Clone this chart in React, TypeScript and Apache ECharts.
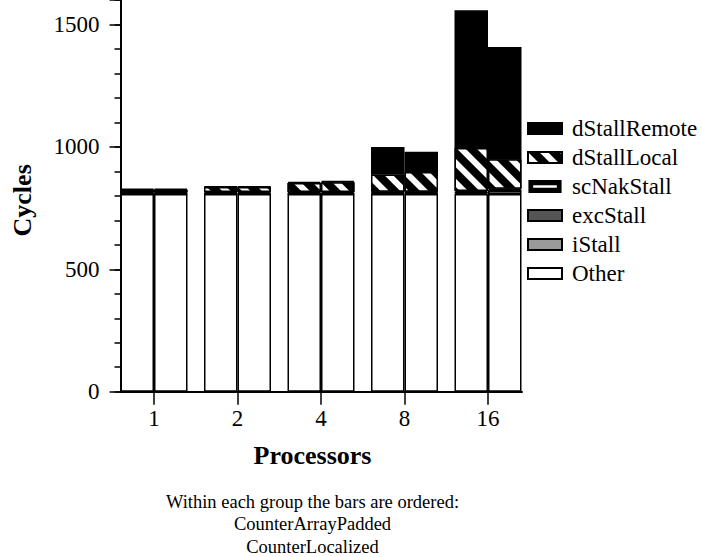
import React, { useEffect, useRef } from 'react';
import * as echarts from 'echarts';

// Categories (processor counts)
const processors = ['1', '2', '4', '8', '16'];

// Stack segments, bottom to top
const segmentNames = ['Other', 'iStall', 'excStall', 'scNakStall', 'dStallLocal', 'dStallRemote'];
const legendOrder = ['dStallRemote', 'dStallLocal', 'scNakStall', 'excStall', 'iStall', 'Other'];

// CounterArrayPadded (left bar of each group)
const paddedOther = [808, 808, 808, 808, 808];
const paddedIStall = [2, 2, 2, 3, 5];
const paddedExcStall = [1, 1, 1, 1, 1];
const paddedScNakStall = [4, 5, 5, 5, 6];
const paddedDStallLocal = [10, 20, 36, 70, 175];
const paddedDStallRemote = [3, 2, 5, 113, 563];

// CounterLocalized (right bar of each group)
const localOther = [808, 808, 808, 808, 808];
const localIStall = [2, 2, 2, 3, 14];
const localExcStall = [1, 1, 1, 1, 1];
const localScNakStall = [4, 5, 5, 5, 6];
const localDStallLocal = [10, 20, 40, 80, 120];
const localDStallRemote = [4, 2, 5, 83, 459];

const yMajorTicks = [0, 500, 1000, 1500];
const footnoteLines = [
  'Within each group the bars are ordered:',
  'CounterArrayPadded',
  'CounterLocalized',
];

const FONT = '"Liberation Serif", "Times New Roman", serif';

export default function App() {
  const ref = useRef<HTMLDivElement>(null);

  useEffect(() => {
    const chart = echarts.init(ref.current as HTMLDivElement, null, { renderer: 'svg' });

    const stacks = [
      {
        stack: 'padded',
        values: [paddedOther, paddedIStall, paddedExcStall, paddedScNakStall, paddedDStallLocal, paddedDStallRemote],
      },
      {
        stack: 'localized',
        values: [localOther, localIStall, localExcStall, localScNakStall, localDStallLocal, localDStallRemote],
      },
    ];

    const segStyles: Record<string, any> = {
      Other: { color: '#ffffff' },
      iStall: { color: '#9a9a9a' },
      excStall: { color: '#555555' },
      scNakStall: { color: '#000000' },
      dStallLocal: {
        color: '#000000',
        decal: {
          symbol: 'rect',
          symbolSize: 1,
          color: '#ffffff',
          dashArrayX: [1, 0],
          dashArrayY: [6, 8],
          rotation: Math.PI / 4,
        },
      },
      dStallRemote: { color: '#000000' },
    };

    const series: any[] = [];
    stacks.forEach((s) => {
      segmentNames.forEach((name, i) => {
        series.push({
          type: 'bar',
          name,
          stack: s.stack,
          xAxisIndex: 0,
          yAxisIndex: 0,
          barWidth: 33.5,
          barGap: '0%',
          silent: true,
          emphasis: { disabled: true },
          data: s.values[i],
          itemStyle: { ...segStyles[name], borderColor: '#000', borderWidth: 1.5 },
        });
      });
    });

    const legendData = legendOrder.map((name) => {
      if (name === 'scNakStall') {
        return { name, icon: 'path://M0,0H34V12H0Z M3,3.5V8.5H31V3.5Z' };
      }
      return { name };
    });

    const option: any = {
      animation: false,
      backgroundColor: '#ffffff',
      textStyle: { fontFamily: FONT, color: '#000' },
      grid: [
        // grid for the bars (category bands)
        { left: 112.25, right: 172.25, top: -3, bottom: 165.3, containLabel: false },
        // grid for the frame lines and the value ticks
        { left: 120.5, right: 180, top: -3, bottom: 165.3, containLabel: false },
      ],
      legend: {
        orient: 'vertical',
        left: 527,
        top: 117,
        padding: 0,
        itemWidth: 34,
        itemHeight: 11,
        itemGap: 6,
        icon: 'rect',
        selectedMode: false,
        data: legendData,
        textStyle: { fontFamily: FONT, fontSize: 23, color: '#000', padding: [0, 0, 0, 5] },
      },
      xAxis: [
        {
          type: 'category',
          gridIndex: 0,
          data: processors,
          boundaryGap: true,
          name: 'Processors',
          nameLocation: 'middle',
          nameGap: 51,
          nameTextStyle: { fontFamily: FONT, fontSize: 26, fontWeight: 'bold', color: '#000', padding: [0, 17, 0, 0] },
          axisLine: { show: false },
          axisTick: { show: true, alignWithLabel: true, length: 13, lineStyle: { color: '#000', width: 1.5 } },
          axisLabel: { fontFamily: FONT, fontSize: 23, color: '#000', margin: 15 },
          splitLine: { show: false },
        },
        {
          type: 'value',
          gridIndex: 1,
          min: 0,
          max: 1,
          axisLine: { show: true, lineStyle: { color: '#000', width: 2 } },
          axisTick: { show: false },
          axisLabel: { show: false },
          splitLine: { show: false },
        },
      ],
      yAxis: [
        {
          type: 'value',
          gridIndex: 0,
          min: 0,
          max: 1600,
          show: false,
        },
        {
          type: 'value',
          gridIndex: 1,
          min: 0,
          max: 1600,
          interval: 100,
          position: 'left',
          name: 'Cycles',
          nameLocation: 'middle',
          nameGap: 85,
          nameTextStyle: { fontFamily: FONT, fontSize: 26, fontWeight: 'bold', color: '#000', padding: [0, 9, 0, 0] },
          axisLine: { show: true, lineStyle: { color: '#000', width: 2 } },
          axisTick: { show: true, length: 6, lineStyle: { color: '#000', width: 1.5 } },
          axisLabel: { show: false },
          splitLine: { show: false },
        },
        {
          type: 'value',
          gridIndex: 1,
          min: 0,
          max: 1600,
          interval: 500,
          position: 'left',
          axisLine: { show: false },
          axisTick: { show: true, length: 11, lineStyle: { color: '#000', width: 1.5 } },
          axisLabel: {
            formatter: (v: number) => (yMajorTicks.indexOf(v) >= 0 ? String(v) : ''),
            fontFamily: FONT,
            fontSize: 23,
            color: '#000',
            margin: 21,
          },
          splitLine: { show: false },
        },
      ],
      graphic: [
        {
          type: 'text',
          x: 312.5,
          y: 524,
          silent: true,
          style: {
            text: footnoteLines.join('\n'),
            fontFamily: FONT,
            fontSize: 18.5,
            lineHeight: 22.5,
            fill: '#000',
            textAlign: 'center',
            textVerticalAlign: 'middle',
          },
        },
      ],
      series,
    };

    chart.setOption(option);
    return () => chart.dispose();
  }, []);

  return (
    <div
      ref={ref}
      style={{ position: 'absolute', left: 0, top: 0, width: 702, height: 557, background: '#fff' }}
    />
  );
}
